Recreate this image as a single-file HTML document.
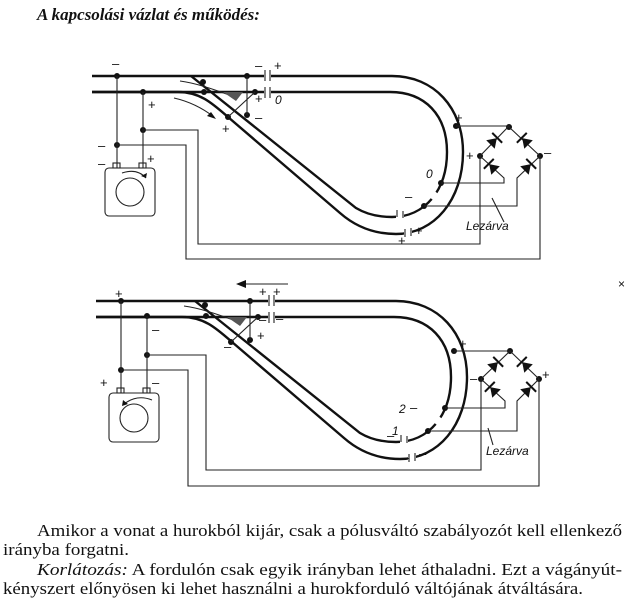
<!DOCTYPE html>
<html><head><meta charset="utf-8"><style>
html,body{margin:0;padding:0;background:#fff;}
svg{display:block;}
.r{fill:none;stroke:#111;stroke-width:2.4;}
.w{fill:none;stroke:#222;stroke-width:1.1;}
.t{font-family:"Liberation Sans",sans-serif;font-size:12px;fill:#111;}
.s{font-family:"Liberation Sans",sans-serif;font-size:13px;fill:#111;}
.p{font-family:"Liberation Serif",serif;font-size:17px;fill:#111;}
</style></head><body>
<svg width="640" height="614" viewBox="0 0 640 614" xmlns="http://www.w3.org/2000/svg">
<defs>
<g id="rails">
 <path class="r" d="M92,92 L178,92 C200,92 212,103 228,117 L340,213 C356,227 375,234 396,234 C434,234 463,200 463,152 C463,108 434,76 392,76 L92,76"/>
 <path class="r" d="M191,76 L356,208 C366,214 378,217 392,217 C425,217 447,190 447,152 C447,115 425,92 390,92 L92,92"/>
 <path class="w" stroke-width="1.6" d="M180,81 C195,83 210,88 232,96"/>
 <polygon points="223,92 243,92 236,101" fill="#555"/>
 <rect x="264" y="70" width="7" height="28" fill="#fff"/>
 <path class="w" stroke-width="1.6" d="M265,70v11M270,70v11M265,87v11M270,87v11"/>
 <rect x="428" y="190" width="8" height="9" fill="#fff" transform="rotate(-50 432 194)"/>
 <rect x="396" y="208" width="8" height="12" fill="#fff"/>
 <rect x="404" y="228" width="8" height="10" fill="#fff"/>
 <path class="w" stroke-width="1.6" d="M397,210v7M403,211v7M405,229v8M411,228v8"/>
</g>
<g id="diode"><polygon points="-5,-6 -5,6 4,0" fill="#111"/><line x1="4.5" y1="-7" x2="4.5" y2="7" stroke="#111" stroke-width="2"/></g>
</defs>

<text x="37" y="20" font-family="Liberation Serif,serif" font-size="17" font-weight="bold" font-style="italic" fill="#111">A kapcsolási vázlat és működés:</text>

<!-- TOP DIAGRAM -->
<use href="#rails"/>
<g fill="#111">
<circle cx="117" cy="76" r="3"/><circle cx="143" cy="92" r="3"/><circle cx="143" cy="130" r="3"/><circle cx="117" cy="145" r="3"/>
<circle cx="247" cy="76" r="3"/><circle cx="247" cy="115" r="3"/><circle cx="255" cy="92" r="3"/><circle cx="228" cy="117" r="3"/>
<circle cx="203" cy="82" r="3"/><circle cx="204" cy="92" r="3"/>
<circle cx="456" cy="126" r="3"/><circle cx="441" cy="183" r="3"/><circle cx="424" cy="206" r="3"/>
<circle cx="509" cy="127" r="3"/><circle cx="480" cy="156" r="3"/><circle cx="540" cy="156" r="3"/>
</g>
<path class="w" d="M117,76V168M143,92V168M143,130H198V244H480V156M117,145H186V259H540V156M247,76V115M255,92L228,117"/>
<path class="w" d="M456,126H509L480,156L504,178V183H441M509,127L540,156L517,178V206H424"/>
<use href="#diode" transform="translate(494,141) rotate(-45)"/>
<use href="#diode" transform="translate(525,141) rotate(-135)"/>
<use href="#diode" transform="translate(492,167) rotate(-135)"/>
<use href="#diode" transform="translate(528,167) rotate(-45)"/>
<path class="w" d="M492,198 L504,222"/>
<rect x="105" y="168" width="50" height="48" rx="4" class="w" stroke-width="1.5"/>
<rect x="113" y="163" width="7" height="5" class="w"/><rect x="139" y="163" width="7" height="5" class="w"/>
<circle cx="130" cy="192" r="14" class="w" stroke-width="1.6"/>
<path class="w" stroke-width="1.3" d="M122,173 Q137,168 146,178"/><polygon points="146,178 141,176 147,173" fill="#111"/>
<path class="w" stroke-width="1.5" d="M174,98 Q196,103 214,117"/><polygon points="216,119 207,116 211,112" fill="#111"/>
<g class="s">
<text x="112" y="68">–</text><text x="148" y="109">+</text><text x="98" y="150">–</text><text x="98" y="168">–</text><text x="147" y="163">+</text>
<text x="255" y="70">–</text><text x="274" y="70">+</text><text x="255" y="103">+</text><text x="255" y="122">–</text><text x="222" y="133">+</text>
<text x="455" y="122">+</text><text x="466" y="160">+</text><text x="544" y="157">–</text>
<text x="405" y="201">–</text><text x="398" y="245">+</text><text x="415" y="235">+</text>
</g>
<g class="t" font-style="italic"><text x="275" y="104">0</text><text x="426" y="178">0</text><text x="466" y="230">Lezárva</text></g>

<!-- BOTTOM DIAGRAM -->
<use href="#rails" transform="translate(4,225)"/>
<g fill="#111">
<circle cx="121" cy="301" r="3"/><circle cx="147" cy="316" r="3"/><circle cx="147" cy="355" r="3"/><circle cx="121" cy="370" r="3"/>
<circle cx="250" cy="301" r="3"/><circle cx="250" cy="340" r="3"/><circle cx="258" cy="317" r="3"/><circle cx="231" cy="342" r="3"/>
<circle cx="205" cy="305" r="3"/><circle cx="206" cy="316" r="3"/>
<circle cx="454" cy="351" r="3"/><circle cx="445" cy="408" r="3"/><circle cx="428" cy="431" r="3"/>
<circle cx="510" cy="351" r="3"/><circle cx="481" cy="379" r="3"/><circle cx="539" cy="379" r="3"/>
</g>
<path class="w" d="M121,301V393M147,316V393M147,355H206V470H481V379M121,370H188V486H539V379M250,301V340M258,317L231,342"/>
<path class="w" d="M454,351H510L481,379L505,401V408H445M510,351L539,379L517,401V431H428"/>
<use href="#diode" transform="translate(495,365) rotate(-45)"/>
<use href="#diode" transform="translate(525,365) rotate(-135)"/>
<use href="#diode" transform="translate(493,390) rotate(-135)"/>
<use href="#diode" transform="translate(528,390) rotate(-45)"/>
<path class="w" d="M488,428 L493,445"/>
<rect x="109" y="393" width="50" height="49" rx="4" class="w" stroke-width="1.5"/>
<rect x="117" y="388" width="7" height="5" class="w"/><rect x="143" y="388" width="7" height="5" class="w"/>
<circle cx="134" cy="418" r="14" class="w" stroke-width="1.6"/>
<path class="w" stroke-width="1.3" d="M152,400 Q137,394 124,404"/><polygon points="122,406 123,400 128,404" fill="#111"/>
<path class="w" stroke-width="1.5" d="M242,284H288"/><polygon points="236,284 246,280 246,288" fill="#111"/>
<g class="s">
<text x="115" y="298">+</text><text x="152" y="334">–</text><text x="100" y="387">+</text><text x="152" y="387">–</text>
<text x="259" y="296">+</text><text x="273" y="296">+</text><text x="259" y="324">–</text><text x="276" y="323">–</text><text x="257" y="340">+</text><text x="224" y="351">–</text>
<text x="459" y="348">+</text><text x="470" y="383">–</text><text x="542" y="379">+</text>
<text x="410" y="412">–</text><text x="387" y="440">–</text><text x="402" y="462">–</text><text x="419" y="458">–</text>
</g>
<g class="t" font-style="italic"><text x="399" y="413">2</text><text x="392" y="435">1</text><text x="486" y="455">Lezárva</text></g>
<text x="618" y="288" class="t" font-size="9">×</text>

<!-- TEXT -->
<text class="p" x="37" y="536" textLength="585" lengthAdjust="spacingAndGlyphs">Amikor a vonat a hurokból kijár, csak a pólusváltó szabályozót kell ellenkező</text>
<text class="p" x="3" y="555" textLength="126" lengthAdjust="spacingAndGlyphs">irányba forgatni.</text>
<text class="p" x="37" y="575" textLength="585" lengthAdjust="spacingAndGlyphs"><tspan font-style="italic">Korlátozás:</tspan> A fordulón csak egyik irányban lehet áthaladni. Ezt a vágányút-</text>
<text class="p" x="3" y="594" textLength="580" lengthAdjust="spacingAndGlyphs">kényszert előnyösen ki lehet használni a hurokforduló váltójának átváltására.</text>
</svg>
</body></html>
